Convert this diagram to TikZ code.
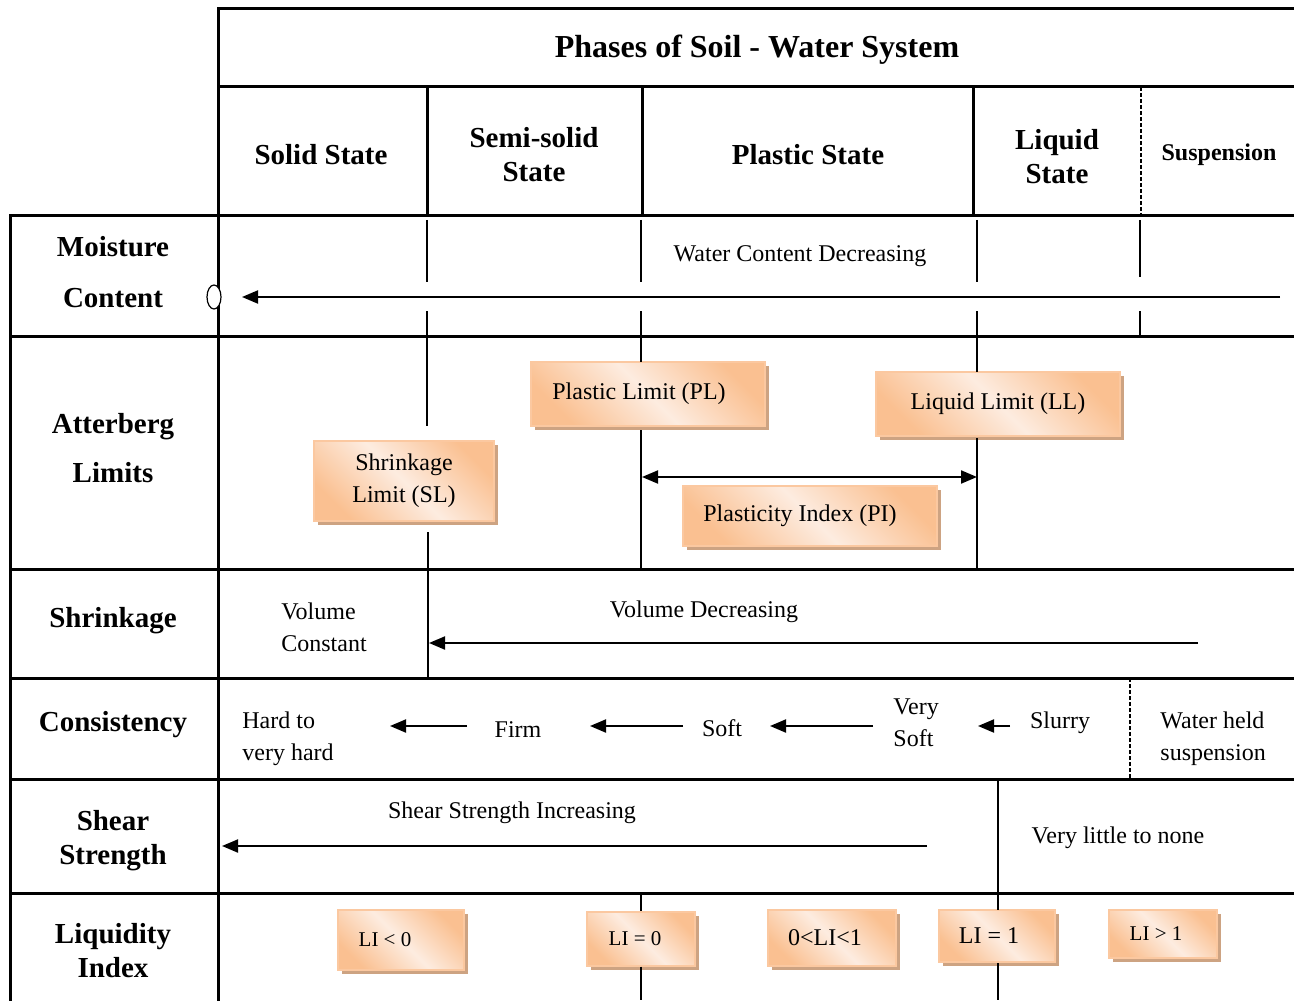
\documentclass[tikz,border=0pt]{standalone}
\usepackage{fontspec}
\setmainfont{Liberation Serif}
\usetikzlibrary{arrows.meta,shadows}
\definecolor{boxdark}{RGB}{250,192,145}
\definecolor{boxlight}{RGB}{253,236,224}
\definecolor{boxedge}{RGB}{251,200,160}
\definecolor{shadowcol}{RGB}{205,163,130}
\newcommand{\soilhd}{\fontsize{14.5}{17}\selectfont\bfseries}
\newcommand{\soiltx}{\fontsize{12}{16}\selectfont}
\newcommand{\soilsm}{\fontsize{10.5}{12}\selectfont}
\begin{document}
\begin{tikzpicture}[x=0.5pt,y=-0.5pt,
  frame/.style={line width=1.5pt,line cap=rect},
  rule/.style={line width=0.8pt},
  dashsep/.style={line width=0.8pt,dash pattern=on 2pt off 1pt},
  arr/.style={line width=1pt,-{Triangle[length=8pt,width=6.5pt]}},
  darr/.style={line width=1pt,{Triangle[length=8pt,width=6.5pt]}-{Triangle[length=8pt,width=6.5pt]}},
  hd/.style={font=\soilhd,align=center,inner sep=0pt},
  tx/.style={font=\soiltx,align=center,inner sep=0pt},
  txl/.style={font=\soiltx,align=left,inner sep=0pt,anchor=west},
  limitbox/.style={draw=boxedge,line width=0.6pt,top color=boxdark,bottom color=boxdark,
    middle color=boxlight,shading angle=-45,inner sep=0pt,font=\soiltx,align=center,
    drop shadow={shadow xshift=2pt,shadow yshift=-2pt,fill=shadowcol,opacity=1}},
  ]
\useasboundingbox (0,0) rectangle (1294,1000);

% ---- table frame ----
\draw[frame] (218,9) -- (1294,9);
\draw[frame] (218,87) -- (1294,87);
\foreach \yy in {216,336,569,678,779,893} \draw[frame] (10,\yy) -- (1294,\yy);
\draw[frame] (218,9) -- (218,1000);
\draw[frame] (10,216) -- (10,1000);
\foreach \xx in {427,642,973} \draw[frame] (\xx,87) -- (\xx,216);
\draw[dashsep] (1141,87) -- (1141,216);

% ---- headers ----
\node[hd] (title) at (757,50) {\fontsize{16}{19}\selectfont Phases of Soil - Water System};
\node[hd] (solid) at (321,155) {Solid State};
\node[hd] (semi) at (534,155) {Semi-solid\\State};
\node[hd] (plastic) at (808,155) {Plastic State};
\node[hd] (liquid) at (1057,157) {Liquid\\State};
\node[hd,font=\fontsize{12}{14}\selectfont\bfseries] (susp) at (1219,155) {Suspension};

\node[hd] (rmoist) at (113,272) {Moisture\\[8.5pt]Content};
\node[hd] (ratter) at (113,448) {Atterberg\\[7.5pt]Limits};
\node[hd] (rshrink) at (113,621) {Shrinkage};
\node[hd] (rcons) at (113,725) {Consistency};
\node[hd] (rshear) at (113,841) {Shear\\Strength};
\node[hd] (rliq) at (113,951) {Liquidity\\Index};

% ---- moisture content row ----
\draw[rule] (427,220) -- (427,282);
\draw[rule] (641,220) -- (641,282);
\draw[rule] (977,220) -- (977,282);
\draw[rule] (1140,220) -- (1140,277);
\draw[rule] (1140,311) -- (1140,336);
\node[tx] (wcd) at (800,256) {Water Content Decreasing};
\coordinate (mstart) at (1280,297);
\coordinate (mend) at (242,297);
\draw[arr] (mstart) -- (mend);
\draw[line width=0.6pt,fill=white] (214,297) ellipse [x radius=3.5pt,y radius=6pt];

% ---- Atterberg limits row ----
\node[limitbox,minimum width=117pt,minimum height=32pt] (PL) at (648,394) {\hspace*{-9pt}Plastic Limit (PL)};
\node[limitbox,minimum width=122pt,minimum height=32pt] (LL) at (998,404) {Liquid Limit (LL)};
\node[limitbox,minimum width=127pt,minimum height=30pt] (PI) at (810,516) {\hspace*{-10pt}Plasticity Index (PI)};
\node[limitbox,minimum width=90pt,minimum height=40pt] (SL) at (404,481) {Shrinkage\\Limit (SL)};

\draw[rule] (427,311) -- (427,426);
\draw[rule] (428,532) -- (428,678);
\draw[rule] (641,311) -- (641,362);
\draw[rule] (641,430) -- (641,569);
\draw[rule] (977,311) -- (977,372);
\draw[rule] (977,438) -- (977,569);
\coordinate (pil) at (642,477);
\coordinate (pir) at (977,477);
\draw[darr] (pil) -- (pir);

% ---- shrinkage row ----
\node[txl] (volc) at (281,627) {Volume\\Constant};
\node[tx] (vold) at (704,612) {Volume Decreasing};
\coordinate (vstart) at (1198,643);
\coordinate (vend) at (429,643);
\draw[arr] (vstart) -- (vend);

% ---- consistency row ----
\node[txl] (hard) at (242,739) {Hard to\\very hard};
\node[tx] (firm) at (518,730) {Firm};
\node[tx] (soft) at (722,728) {Soft};
\node[txl] (vsoft) at (893,723) {Very\\Soft};
\node[tx] (slurry) at (1060,723) {Slurry};
\node[txl] (wheld) at (1160,739) {Water held\\suspension};
\coordinate (c1a) at (467,726); \coordinate (c1b) at (390,726);
\coordinate (c2a) at (683,726); \coordinate (c2b) at (590,726);
\coordinate (c3a) at (873,726); \coordinate (c3b) at (770,726);
\coordinate (c4a) at (1010,726); \coordinate (c4b) at (978,726);
\draw[arr] (c1a) -- (c1b);
\draw[arr] (c2a) -- (c2b);
\draw[arr] (c3a) -- (c3b);
\draw[arr] (c4a) -- (c4b);
\draw[dashsep] (1130,678) -- (1130,779);

% ---- shear strength row ----
\node[tx] (ssi) at (512,813) {Shear Strength Increasing};
\node[tx] (vlit) at (1118,838) {Very little to none};
\coordinate (sstart) at (927,846);
\coordinate (send) at (222,846);
\draw[arr] (sstart) -- (send);
\draw[rule] (998,779) -- (998,893);

% ---- liquidity index row ----
\node[limitbox,minimum width=63pt,minimum height=30pt,font=\soilsm] (LIa) at (401,940) {\hspace*{-16pt}LI < 0};
\node[limitbox,minimum width=54pt,minimum height=27pt,font=\soilsm] (LIb) at (641,939) {\hspace*{-6pt}LI = 0};
\node[limitbox,minimum width=64pt,minimum height=28pt] (LIc) at (832,938) {\hspace*{-7pt}0<LI<1};
\node[limitbox,minimum width=58pt,minimum height=26pt] (LId) at (997,936) {\hspace*{-8pt}LI = 1};
\node[limitbox,minimum width=54pt,minimum height=24pt,font=\soilsm] (LIe) at (1163,934) {\hspace*{-7pt}LI > 1};
\draw[rule] (641,893) -- (LIb.north);
\draw[rule] (LIb.south) -- (641,1000);
\draw[rule] (998,893) -- (998,910);
\draw[rule] (998,963) -- (998,1000);
\end{tikzpicture}
\end{document}
